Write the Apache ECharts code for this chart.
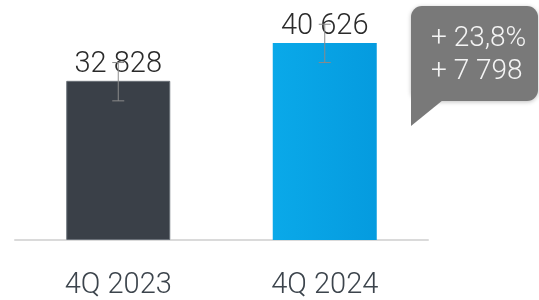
<!DOCTYPE html>
<html lang="en">
<head>
    <meta charset="UTF-8">
    <title>4Q</title>
    <script src="https://cdn.jsdelivr.net/npm/echarts@6/dist/echarts.min.js"></script>
    <style>
        html, body { margin: 0; padding: 0; background: #fff; }
    </style>
</head>
<body>
<div id="myChart" style="height: 300px;width: 539px;"></div>
<script>
    var categories = ['4Q 2023', '4Q 2024'];
    var values = [32828, 40626];
    // thin whiskers drawn over the bars in the original
    var whiskerLow = [28700, 36600];
    var whiskerHigh = [36600, 44500];

    function fmt(n) {
        return String(n).replace(/\B(?=(\d{3})+(?!\d))/g, ' ');
    }

    var diff = values[1] - values[0];
    var pct = (diff / values[0] * 100).toFixed(1).replace('.', ',');

    var font = 'Roboto';
    var chart = echarts.init(document.getElementById('myChart'));
    chart.setOption({
        animation: false,
        grid: { left: 15, right: 111, top: 0, bottom: 50 },
        xAxis: {
            type: 'category',
            data: categories,
            axisLine: { lineStyle: { color: '#dadada', width: 2 } },
            axisTick: { show: false },
            axisLabel: {
                color: '#3c444c',
                fontFamily: font,
                fontWeight: 300,
                fontSize: 29,
                margin: 31
            }
        },
        yAxis: {
            type: 'value',
            min: 0,
            max: 49500,
            show: false,
            splitLine: { show: false }
        },
        series: [{
            type: 'bar',
            barWidth: 104,
            data: values.map(function (v, i) {
                return {
                    value: v,
                    itemStyle: i === 0 ? {
                        color: '#3a4048',
                        borderColor: '#6a7078',
                        borderWidth: 1
                    } : {
                        color: new echarts.graphic.LinearGradient(0, 0, 1, 0, [
                            { offset: 0, color: '#0aa9e9' },
                            { offset: 1, color: '#059bdf' }
                        ])
                    }
                };
            }),
            label: {
                show: true,
                position: 'top',
                distance: 2,
                color: '#2a2a2a',
                fontFamily: font,
                fontWeight: 300,
                fontSize: 29,
                formatter: function (p) { return fmt(p.value); }
            }
        }, {
            type: 'custom',
            z: 5,
            data: categories.map(function (c, i) { return [i, whiskerLow[i], whiskerHigh[i]]; }),
            renderItem: function (params, api) {
                var lo = api.coord([api.value(0), api.value(1)]);
                var hi = api.coord([api.value(0), api.value(2)]);
                var st = { stroke: '#8a8a8a', lineWidth: 1 };
                return {
                    type: 'group',
                    children: [
                        { type: 'line', shape: { x1: hi[0], y1: hi[1], x2: lo[0], y2: lo[1] }, style: st },
                        { type: 'line', shape: { x1: hi[0] - 6, y1: hi[1], x2: hi[0] + 6, y2: hi[1] }, style: st },
                        { type: 'line', shape: { x1: lo[0] - 6, y1: lo[1], x2: lo[0] + 6, y2: lo[1] }, style: st }
                    ]
                };
            }
        }],
        graphic: [{
            type: 'group',
            left: 411,
            top: 6,
            children: [{
                type: 'rect',
                shape: { x: 0, y: 0, width: 127, height: 95, r: 11 },
                style: { fill: '#797979', shadowBlur: 4, shadowColor: 'rgba(0,0,0,0.25)', shadowOffsetY: 1 }
            }, {
                type: 'polygon',
                shape: { points: [[0, 85], [0, 120], [32, 94], [32, 85]] },
                style: { fill: '#797979' }
            }, {
                type: 'text',
                x: 20,
                y: 16,
                style: {
                    text: '+ ' + pct + '%\n+ ' + fmt(diff),
                    fill: '#f4f4f4',
                    font: '300 28px ' + font,
                    lineHeight: 33
                }
            }]
        }]
    });
</script>
</body>
</html>
